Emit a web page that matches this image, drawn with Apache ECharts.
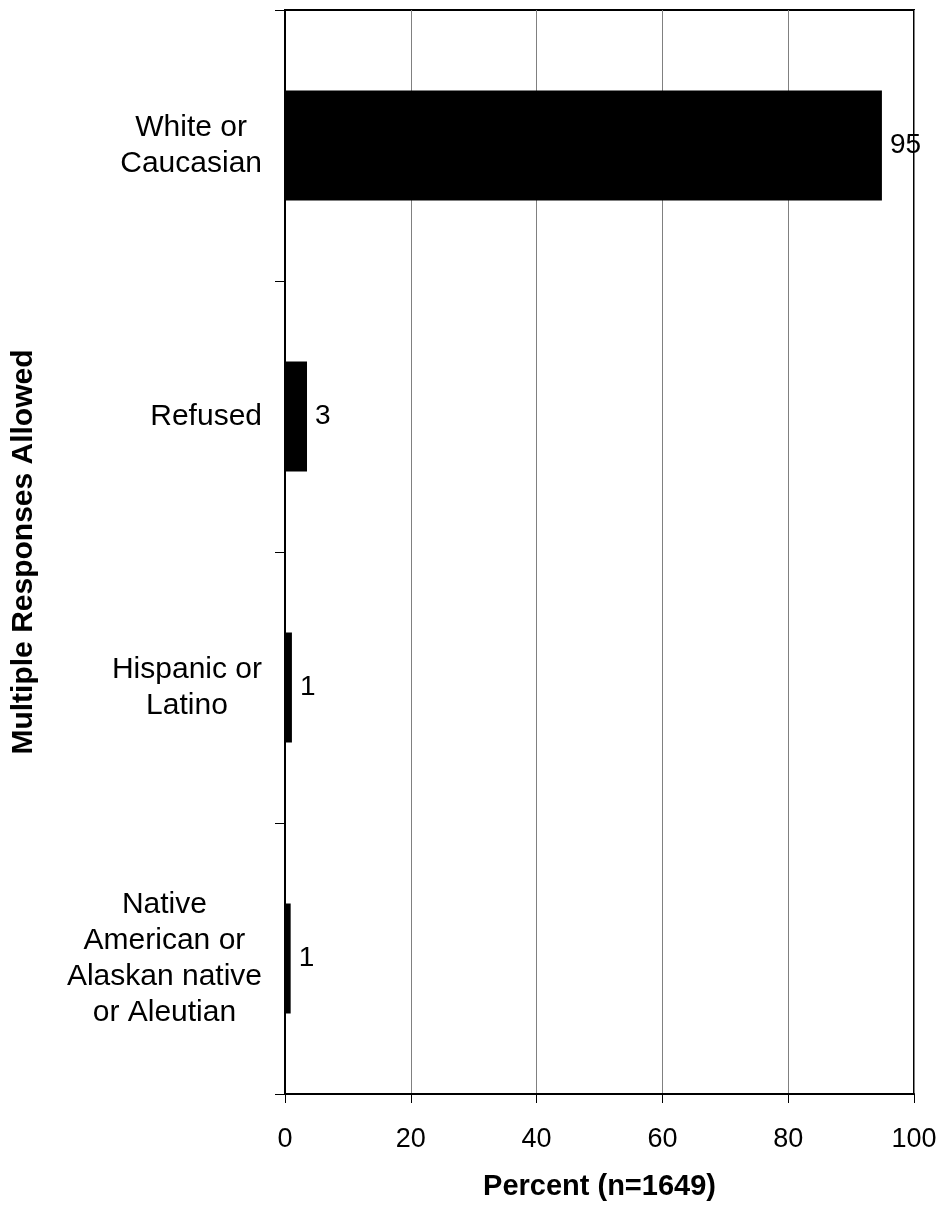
<!DOCTYPE html>
<html>
<head>
<meta charset="utf-8">
<script src="https://cdn.jsdelivr.net/npm/echarts@6/dist/echarts.min.js"></script>
<style>
html,body{margin:0;padding:0;background:#fff;}
#chart{width:942px;height:1207px;}
</style>
</head>
<body>
<div id="chart"></div>
<script>
var categories = ["White or\nCaucasian", "Refused", "Hispanic or\nLatino", "Native\nAmerican or\nAlaskan native\nor Aleutian"];
var values = [94.9, 3.5, 1.1, 0.9];
var valueLabels = ["95", "3", "1", "1"];
var xTicks = [0, 20, 40, 60, 80, 100];
var xTitle = "Percent (n=1649)";
var yTitle = "Multiple Responses Allowed";

var FONT = "'Liberation Sans', Arial, Helvetica, sans-serif";
var chart = echarts.init(document.getElementById('chart'), null, {renderer: 'canvas'});
chart.setOption({
  animation: false,
  backgroundColor: '#fff',
  grid: {left: 285, right: 28, top: 10, bottom: 113, show: true, borderColor: '#000', borderWidth: 2, containLabel: false, outerBoundsMode: 'none'},
  xAxis: {
    type: 'value', min: xTicks[0], max: xTicks[xTicks.length - 1], interval: 20,
    axisLine: {show: true, lineStyle: {color: '#000', width: 2}},
    axisTick: {show: true, length: 9, lineStyle: {color: '#000', width: 1}},
    splitLine: {show: true, lineStyle: {color: '#808080', width: 1}},
    axisLabel: {color: '#000', fontSize: 27, fontFamily: FONT, margin: 32},
    name: xTitle, nameLocation: 'middle', nameGap: 78,
    nameTextStyle: {color: '#000', fontSize: 29, fontWeight: 'bold', fontFamily: FONT}
  },
  yAxis: {
    type: 'category', inverse: true, data: categories,
    axisLine: {show: true, lineStyle: {color: '#000', width: 2}},
    axisTick: {show: true, length: 10, alignWithLabel: false, lineStyle: {color: '#000', width: 1}},
    splitLine: {show: false},
    axisLabel: {
      margin: 23, align: 'right',
      formatter: function (v) { return v.split('\n').map(function (l) { return '{c|' + l + '}'; }).join('\n'); },
      rich: {c: {align: 'center', fontSize: 30, lineHeight: 36, color: '#000', fontFamily: FONT}}
    },
    name: yTitle, nameLocation: 'middle', nameGap: 246, nameRotate: 90,
    nameTextStyle: {color: '#000', fontSize: 30, fontWeight: 'bold', fontFamily: FONT}
  },
  series: [{
    type: 'bar', data: values, barWidth: 110,
    itemStyle: {color: '#000'},
    label: {
      show: true, position: 'right', distance: 8, color: '#000', fontSize: 28, fontFamily: FONT,
      formatter: function (p) { return valueLabels[p.dataIndex]; }
    }
  }]
});
</script>
</body>
</html>
